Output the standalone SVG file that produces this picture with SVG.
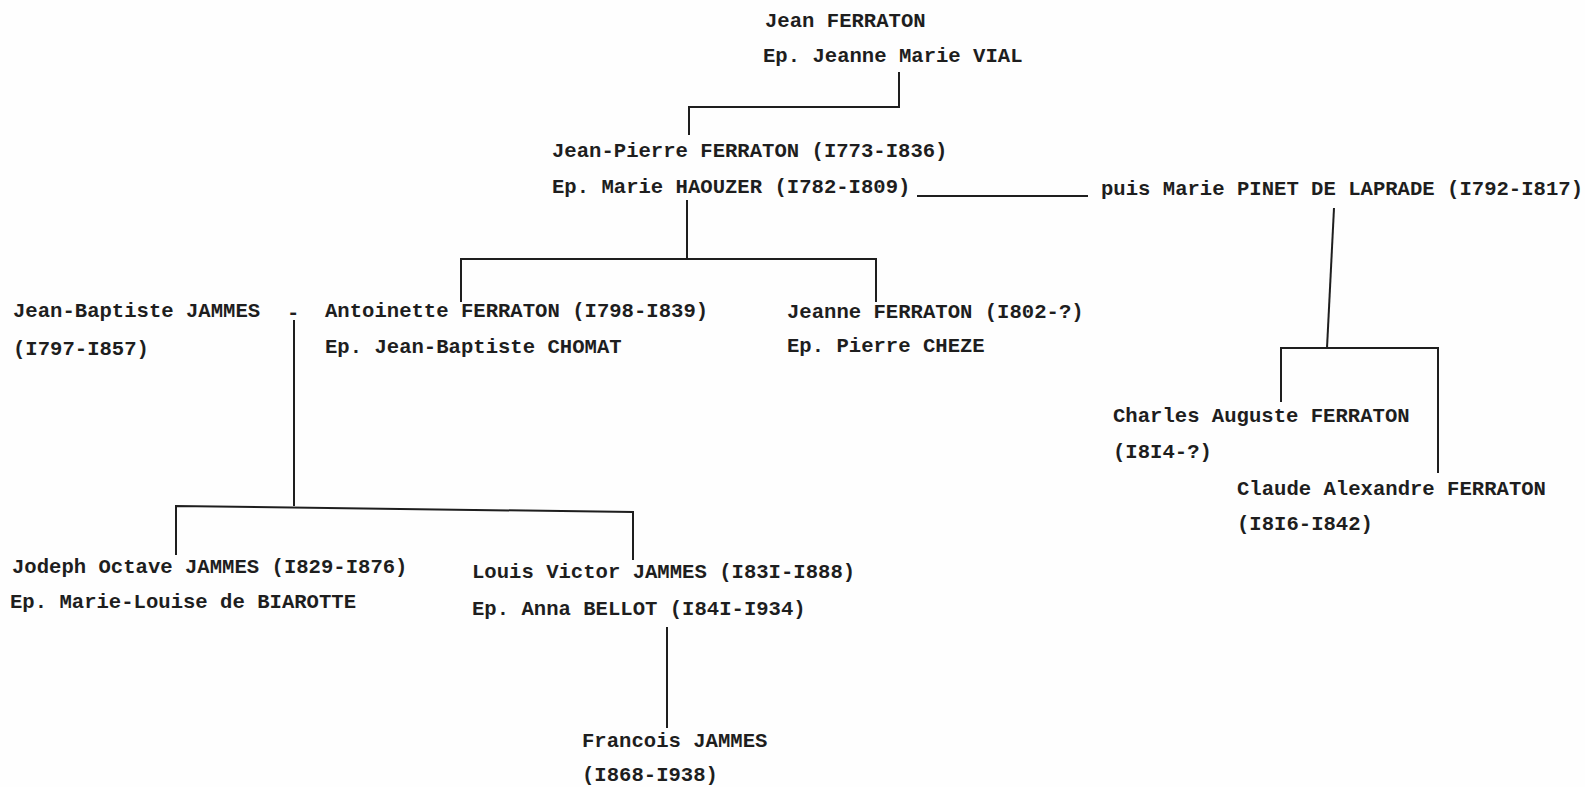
<svg xmlns="http://www.w3.org/2000/svg" width="1585" height="787" viewBox="0 0 1585 787">
<style>
text{font-family:"Liberation Mono","DejaVu Sans Mono",monospace;font-size:20.6px;font-weight:bold;fill:#1e1e1e}
.c{fill:none;stroke:#1e1e1e;stroke-width:2}
</style>
<rect width="1585" height="787" fill="#fefefe"/>
<g id="connectors" class="c">
<path d="M899 72V107H689V135"/>
<path d="M917 196H1088"/>
<path d="M687 200V259"/>
<path d="M461 302V259H876V302"/>
<path d="M1334 208L1327 348"/>
<path d="M1281 402V348H1438V473"/>
<path d="M294 320V506"/>
<path d="M176 555V506L633 512V560"/>
<path d="M667 627V728"/>
</g>
<g id="jean-ferraton"><text x="765" y="27">Jean FERRATON</text><text x="763" y="62">Ep. Jeanne Marie VIAL</text></g>
<g id="jean-pierre-ferraton"><text x="552" y="157">Jean-Pierre FERRATON (I773-I836)</text><text x="552" y="193">Ep. Marie HAOUZER (I782-I809)</text></g>
<g id="marie-pinet"><text x="1101" y="195" textLength="482" lengthAdjust="spacing">puis Marie PINET DE LAPRADE (I792-I817)</text></g>
<g id="jean-baptiste-jammes"><text x="13" y="317">Jean-Baptiste JAMMES</text><text x="13" y="355">(I797-I857)</text><text x="287" y="319">-</text></g>
<g id="antoinette-ferraton"><text x="325" y="317">Antoinette FERRATON (I798-I839)</text><text x="325" y="353">Ep. Jean-Baptiste CHOMAT</text></g>
<g id="jeanne-ferraton"><text x="787" y="318">Jeanne FERRATON (I802-?)</text><text x="787" y="352">Ep. Pierre CHEZE</text></g>
<g id="charles-auguste-ferraton"><text x="1113" y="422">Charles Auguste FERRATON</text><text x="1113" y="458">(I8I4-?)</text></g>
<g id="claude-alexandre-ferraton"><text x="1237" y="495">Claude Alexandre FERRATON</text><text x="1237" y="530">(I8I6-I842)</text></g>
<g id="joseph-octave-jammes"><text x="12" y="573">Jodeph Octave JAMMES (I829-I876)</text><text x="10" y="608">Ep. Marie-Louise de BIAROTTE</text></g>
<g id="louis-victor-jammes"><text x="472" y="578">Louis Victor JAMMES (I83I-I888)</text><text x="472" y="615">Ep. Anna BELLOT (I84I-I934)</text></g>
<g id="francois-jammes"><text x="582" y="747">Francois JAMMES</text><text x="582" y="781">(I868-I938)</text></g>
</svg>
